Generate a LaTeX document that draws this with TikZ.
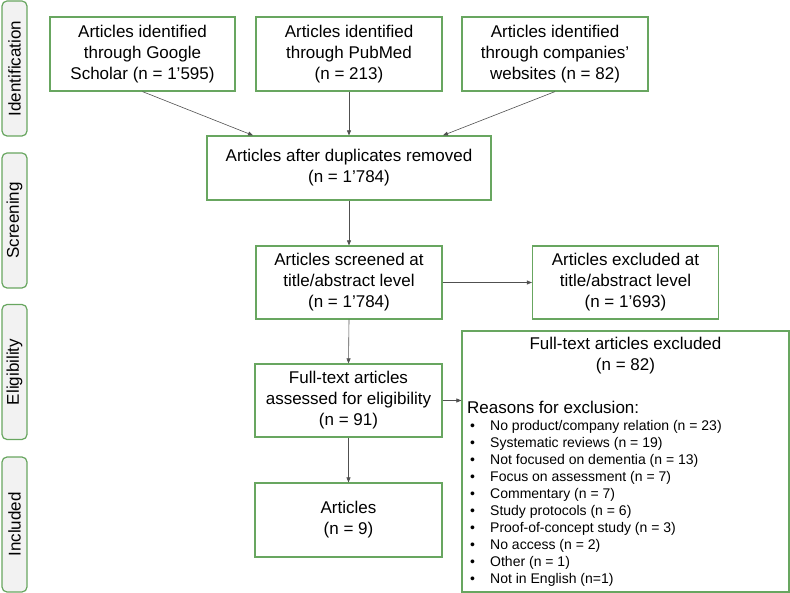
\documentclass[tikz,border=0pt]{standalone}
\usepackage{fontspec}
\setmainfont{Liberation Sans}
\usetikzlibrary{arrows.meta}
\definecolor{PrGreen}{RGB}{104,166,96}
\definecolor{PrGrey}{RGB}{242,242,242}
\definecolor{PrArrow}{RGB}{80,80,80}

\begin{document}
\begin{tikzpicture}[x=1pt, y=-1pt,
          sbox/.style={rectangle, draw=PrGreen, line width=1.2pt, align=center,
                       minimum width=186pt, minimum height=73pt, inner sep=0pt,
                       font=\fontsize{17}{21}\selectfont},
          phase/.style={rectangle, rounded corners=5pt, draw=PrGreen, line width=1.2pt,
                        fill=PrGrey, minimum width=135pt, minimum height=25pt, rotate=90,
                        font=\fontsize{17}{21}\selectfont},
          arr/.style={-{Triangle[length=5pt, width=4pt]}, draw=PrArrow, line width=0.6pt},
          reason/.style={anchor=west, inner sep=0pt, font=\fontsize{14}{17}\selectfont}
        ]
        \useasboundingbox (0,0) rectangle (790,593);

        % Phases on the left
        \node[phase] (pid)  at (14.5, 68.5)  {Identification};
        \node[phase] (pscr) at (14.5, 220.5) {Screening};
        \node[phase] (pel)  at (14.5, 372)   {Eligibility};
        \node[phase] (pinc) at (14.5, 524.5) {Included};

        \node[sbox, minimum width=185pt, minimum height=74pt] (google) at (142.5, 54)
              {Articles identified\\through Google\\Scholar (n = 1’595)};
        \node[sbox, minimum height=74pt] (pubmed)  at (349, 54)
              {Articles identified\\through PubMed\\(n = 213)};
        \node[sbox, minimum height=74pt] (company) at (555, 54)
              {Articles identified\\through companies’\\websites (n = 82)};
        \node[sbox, minimum width=284pt, minimum height=64pt] (dupl) at (349, 168)
              {Articles after duplicates removed\\(n = 1’784)};
        \node[sbox] (screen)   at (349, 282.5)   {Articles screened at\\title/abstract level\\(n = 1’784)};
        \node[sbox] (titleex)  at (625.5, 282.5) {Articles excluded at\\title/abstract level\\(n = 1’693)};
        \node[sbox, minimum width=187pt] (fulltext) at (348.5, 400.5)
              {Full-text articles\\assessed for eligibility\\(n = 91)};
        \node[sbox, minimum width=187pt, minimum height=74pt] (incl) at (348.5, 520)
              {Articles\\(n = 9)};
        \node[sbox, minimum width=327pt, minimum height=261pt] (fullex) at (625.5, 461.5) {};

        % Exclusion details
        \node[font=\fontsize{17}{21}\selectfont, align=center, inner sep=0pt] (exhead) at (625.5, 355.5)
              {Full-text articles excluded\\(n = 82)};
        \node[font=\fontsize{17}{21}\selectfont, anchor=west, inner sep=0pt] (reasons) at (467, 407)
              {Reasons for exclusion:};
        \foreach \txt [count=\i] in {No product/company relation (n = 23),
            Systematic reviews (n = 19), Not focused on dementia (n = 13),
            Focus on assessment (n = 7), Commentary (n = 7), Study protocols (n = 6),
            Proof-of-concept study (n = 3), No access (n = 2), Other (n = 1),
            Not in English (n=1)} {
          \node[reason] (r\i) at (470, {427 + 17*(\i-1)})
                {\makebox[20pt][l]{\textbullet}\txt};
        }

        \draw[arr] (google.south) -- ([xshift=-96pt]dupl.north);
        \draw[arr] (pubmed.south) -- (dupl.north);
        \draw[arr] (company.south) -- ([xshift=94pt]dupl.north);
        \foreach \a/\b in {dupl/screen, screen/fulltext, fulltext/incl} {
          \draw[arr] (\a.south) -- (\b.north);
        }
        \draw[arr] (screen.east) -- (titleex.west);
        \draw[arr] (fulltext.east) -- (fullex.west |- fulltext.east);
      \end{tikzpicture}
\end{document}
